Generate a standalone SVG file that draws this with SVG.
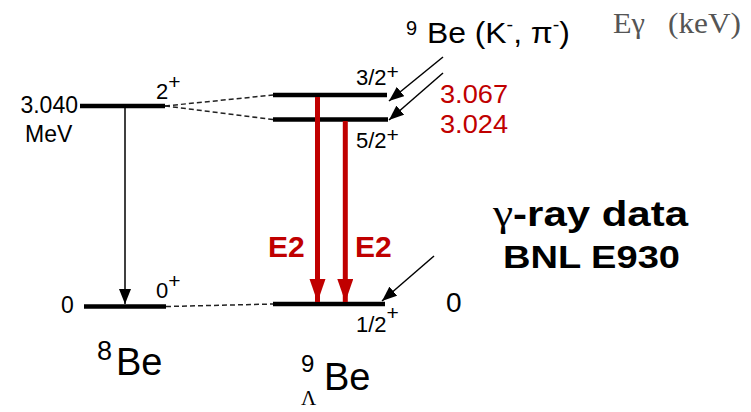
<svg xmlns="http://www.w3.org/2000/svg" width="751" height="412" viewBox="0 0 751 412">
<style>
text{font-family:"Liberation Sans",Arial,sans-serif;fill:#000}
.lvl{stroke:#000;stroke-width:4.5;fill:none}
.dash{stroke:#222;stroke-width:1.5;stroke-dasharray:5 3;fill:none}
.thin{stroke:#000;stroke-width:1.5;fill:none}
.red{stroke:#c00000;stroke-width:5;fill:none}
.s22{font-size:22px}
.rt{fill:#c00000}
.serif{font-family:"Liberation Serif","Times New Roman",serif}
.gray{fill:#555}
</style>
<defs>
<marker id="ah" markerUnits="userSpaceOnUse" markerWidth="16" markerHeight="12" refX="15" refY="6" orient="auto">
<path d="M0,0 L15,6 L0,12 Z" fill="#000"/>
</marker>
<marker id="ahr" markerUnits="userSpaceOnUse" markerWidth="24" markerHeight="18" refX="23" refY="8" orient="auto">
<path d="M0,0 L23,8 L0,16 Z" fill="#c00000"/>
</marker>
</defs>
<rect width="751" height="412" fill="#fff"/>

<g id="be8-excited">
<line class="lvl" x1="80" y1="106" x2="165" y2="106"/>
<text x="78" y="113" font-size="23" text-anchor="end">3.040</text>
<text x="25" y="142" font-size="23">MeV</text>
<text class="s22" x="156" y="99">2<tspan dy="-10" font-size="21">+</tspan></text>
</g>
<g id="be8-ground">
<line class="lvl" x1="84" y1="306.5" x2="166" y2="306.5"/>
<text x="61" y="313" font-size="23">0</text>
<text class="s22" x="156" y="298">0<tspan dy="-10" font-size="21">+</tspan></text>
</g>
<g id="be8-label">
<text x="97" y="360" font-size="27">8</text>
<text x="116" y="375" font-size="38">Be</text>
</g>

<g id="hyp-32">
<line class="lvl" x1="273" y1="95" x2="387" y2="95"/>
<text class="s22" x="356" y="85">3/2<tspan dy="-6" font-size="21">+</tspan></text>
</g>
<g id="hyp-52">
<line class="lvl" x1="273" y1="119.5" x2="388" y2="119.5"/>
<text class="s22" x="356" y="148">5/2<tspan dy="-6" font-size="21">+</tspan></text>
</g>
<g id="hyp-ground">
<line class="lvl" x1="273" y1="304" x2="385" y2="304"/>
<text class="s22" x="356" y="332">1/2<tspan dy="-12" font-size="21">+</tspan></text>
<text x="446" y="312" font-size="28">0</text>
</g>
<g id="hyp-label">
<text x="301" y="372" font-size="24">9</text>
<text x="301" y="405" font-size="21" class="serif">Λ</text>
<text x="324" y="390" font-size="38">Be</text>
</g>

<g id="reaction">
<text x="406" y="35" font-size="20">9</text>
<text x="427" y="43" font-size="29" textLength="143" lengthAdjust="spacingAndGlyphs">Be (K<tspan dy="-12" font-size="18">-</tspan><tspan dy="12">, π</tspan><tspan dy="-12" font-size="18">-</tspan><tspan dy="12">)</tspan></text>
</g>
<g id="egamma-header">
<text class="serif gray" x="613" y="33" font-size="30" textLength="32" lengthAdjust="spacingAndGlyphs">Eγ</text>
<text class="serif gray" x="668" y="33" font-size="30" textLength="73" lengthAdjust="spacingAndGlyphs">(keV)</text>
</g>
<g id="energies">
<text class="rt" x="440" y="103" font-size="26" textLength="68" lengthAdjust="spacingAndGlyphs">3.067</text>
<text class="rt" x="440" y="133" font-size="26" textLength="68" lengthAdjust="spacingAndGlyphs">3.024</text>
</g>
<g id="e2-labels">
<text class="rt" x="268" y="257" font-size="30" font-weight="bold">E2</text>
<text class="rt" x="355" y="257" font-size="30" font-weight="bold">E2</text>
</g>
<g id="title">
<text x="493" y="226" font-size="35" font-weight="bold" textLength="195" lengthAdjust="spacingAndGlyphs"><tspan class="serif" font-weight="normal" font-size="38">γ</tspan>-ray data</text>
<text x="503" y="268" font-size="32" font-weight="bold" textLength="177" lengthAdjust="spacingAndGlyphs">BNL E930</text>
</g>

<g id="connectors">
<line class="dash" x1="165" y1="106" x2="273" y2="95"/>
<line class="dash" x1="165" y1="106" x2="273" y2="119.5"/>
<line class="dash" x1="166" y1="306.5" x2="273" y2="304"/>
<line class="thin" x1="125" y1="106" x2="125" y2="304" marker-end="url(#ah)"/>
<line class="red" x1="317.5" y1="97" x2="317.5" y2="302" marker-end="url(#ahr)"/>
<line class="red" x1="345.3" y1="121" x2="345.3" y2="302" marker-end="url(#ahr)"/>
<line class="thin" x1="443" y1="57" x2="389" y2="101" marker-end="url(#ah)"/>
<line class="thin" x1="443" y1="73" x2="389" y2="120" marker-end="url(#ah)"/>
<line class="thin" x1="434" y1="256" x2="382" y2="301" marker-end="url(#ah)"/>
</g>
</svg>
